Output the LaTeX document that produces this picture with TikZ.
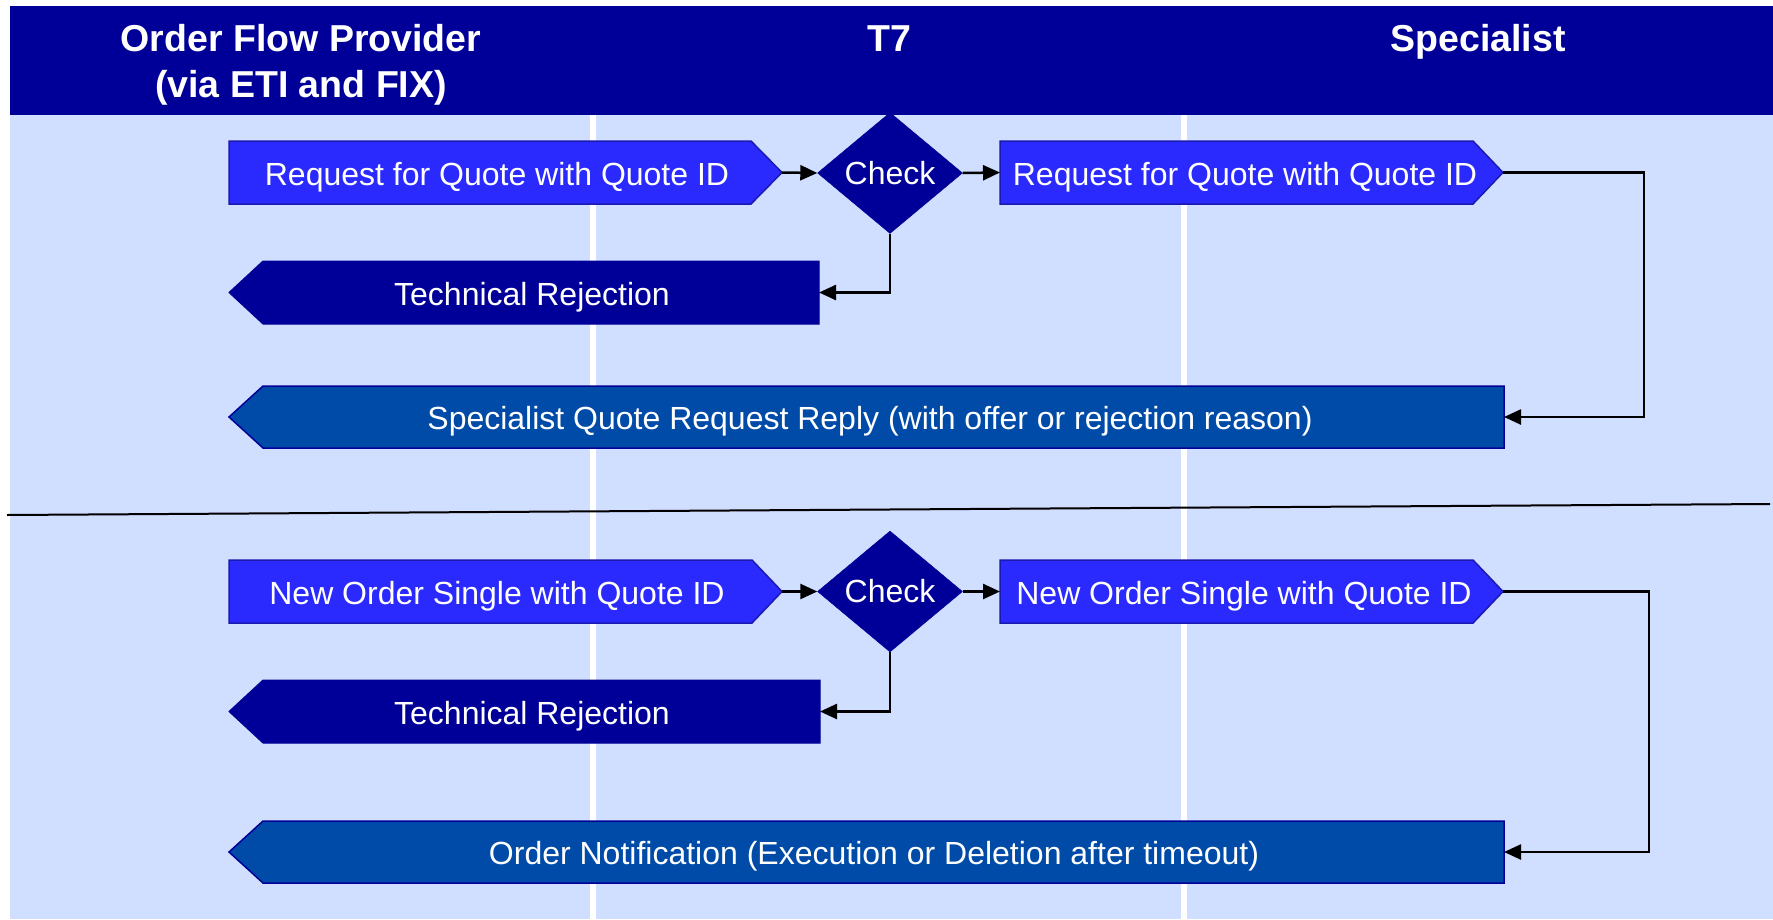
\documentclass[tikz,border=0pt]{standalone}
\usepackage{fontspec}
\setmainfont{Liberation Sans}
\usetikzlibrary{arrows.meta,shapes.geometric}
\definecolor{hdr}{HTML}{000099}
\definecolor{lane}{HTML}{D0DEFF}
\definecolor{bright}{HTML}{2A2AFF}
\definecolor{brightedge}{HTML}{1A1AB0}
\definecolor{mid}{HTML}{004BA8}
\tikzset{
  hdrtext/.style={text=white, font=\fontsize{37.5}{46}\selectfont\bfseries, anchor=base, inner sep=0pt},
  msg/.style={text=white, font=\fontsize{32}{38}\selectfont, anchor=base, inner sep=0pt},
  brightshape/.style={fill=bright, draw=brightedge, line width=1.5pt},
  navyshape/.style={fill=hdr, draw=hdr, line width=1pt},
  midshape/.style={fill=mid, draw=hdr, line width=1.5pt},
  checkbox/.style={diamond, fill=hdr, draw=hdr, inner sep=0pt, minimum width=145pt, minimum height=121pt,
    text=white, font=\fontsize{32}{38}\selectfont},
  conn/.style={draw=black, line width=2.5pt, -{Triangle[length=17pt,width=15pt]}},
  laneline/.style={draw=white, line width=6pt},
}
\begin{document}
\begin{tikzpicture}[x=1pt,y=-1pt]
\useasboundingbox (0,0) rectangle (1773,919);
% background
\fill[white] (0,0) rectangle (1773,919);
\fill[lane] (10,115) rectangle (1773,919);
\fill[hdr] (10,6) rectangle (1773,115);
\draw[laneline] (593,115) -- (593,919);
\draw[laneline] (1184,115) -- (1184,919);
% header
\node[hdrtext] (h1a) at (301,51) {Order Flow Provider};
\node[hdrtext] (h1b) at (301,97) {(via ETI and FIX)};
\node[hdrtext] (h2) at (889,51) {T7};
\node[hdrtext] (h3) at (1478,51) {Specialist};
% separator
\draw[black, line width=2pt] (7,515) coordinate (sepL) -- (1770,504) coordinate (sepR);

% ---------- upper flow ----------
\path[brightshape] (229,141) -- (751,141) -- (782,172.5) coordinate (Atip) -- (751,204) -- (229,204) -- cycle;
\node[checkbox] (Check1) at (890,173) {\raisebox{-1.5pt}{Check}};
\path[brightshape] (1000,141) -- (1473,141) -- (1503,172.5) coordinate (Btip) -- (1473,204) -- (1000,204) -- cycle;
\coordinate (Bleft) at (1000,172.5);
\path[navyshape] (229,292.5) coordinate (TRaTip) -- (263,261) -- (819,261) -- (819,324) -- (263,324) -- cycle;
\coordinate (TRaEnd) at (819,292.5);
\path[midshape] (229,417) coordinate (Ctip) -- (263,386) -- (1504,386) -- (1504,448) -- (263,448) -- cycle;
\coordinate (CEnd) at (1504,417);

\node[msg] (Atext) at (497,185) {Request for Quote with Quote ID};
\node[msg] (Btext) at (1245,185.5) {Request for Quote with Quote ID};
\node[msg] (TRatext) at (532,305) {Technical Rejection};
\node[msg] (Ctext) at (870,429.5) {Specialist Quote Request Reply (with offer or rejection reason)};

\draw[conn] (Atip) -- (Check1.west);
\draw[conn] (Check1.east) -- (Bleft);
\draw[conn] (Check1.south) |- (TRaEnd);
\draw[conn] (Btip) -| (1644,417) -- (CEnd);

% ---------- lower flow ----------
\path[brightshape] (229,560) -- (752,560) -- (782,591.5) coordinate (Dtip) -- (752,623) -- (229,623) -- cycle;
\node[checkbox] (Check2) at (890,591.5) {\raisebox{-1.5pt}{Check}};
\path[brightshape] (1000,560) -- (1473,560) -- (1503,591.5) coordinate (Etip) -- (1473,623) -- (1000,623) -- cycle;
\coordinate (Eleft) at (1000,591.5);
\path[navyshape] (229,711.5) coordinate (TRbTip) -- (263,680) -- (820,680) -- (820,743) -- (263,743) -- cycle;
\coordinate (TRbEnd) at (820,711.5);
\path[midshape] (229,852) coordinate (Ftip) -- (263,821) -- (1504,821) -- (1504,883) -- (263,883) -- cycle;
\coordinate (FEnd) at (1504,852);

\node[msg] (Dtext) at (497,604) {New Order Single with Quote ID};
\node[msg] (Etext) at (1244,604) {New Order Single with Quote ID};
\node[msg] (TRbtext) at (532,724) {Technical Rejection};
\node[msg] (Ftext) at (874,864.5) {Order Notification (Execution or Deletion after timeout)};

\draw[conn] (Dtip) -- (Check2.west);
\draw[conn] (Check2.east) -- (Eleft);
\draw[conn] (Check2.south) |- (TRbEnd);
\draw[conn] (Etip) -| (1649,852) -- (FEnd);
\end{tikzpicture}
\end{document}
